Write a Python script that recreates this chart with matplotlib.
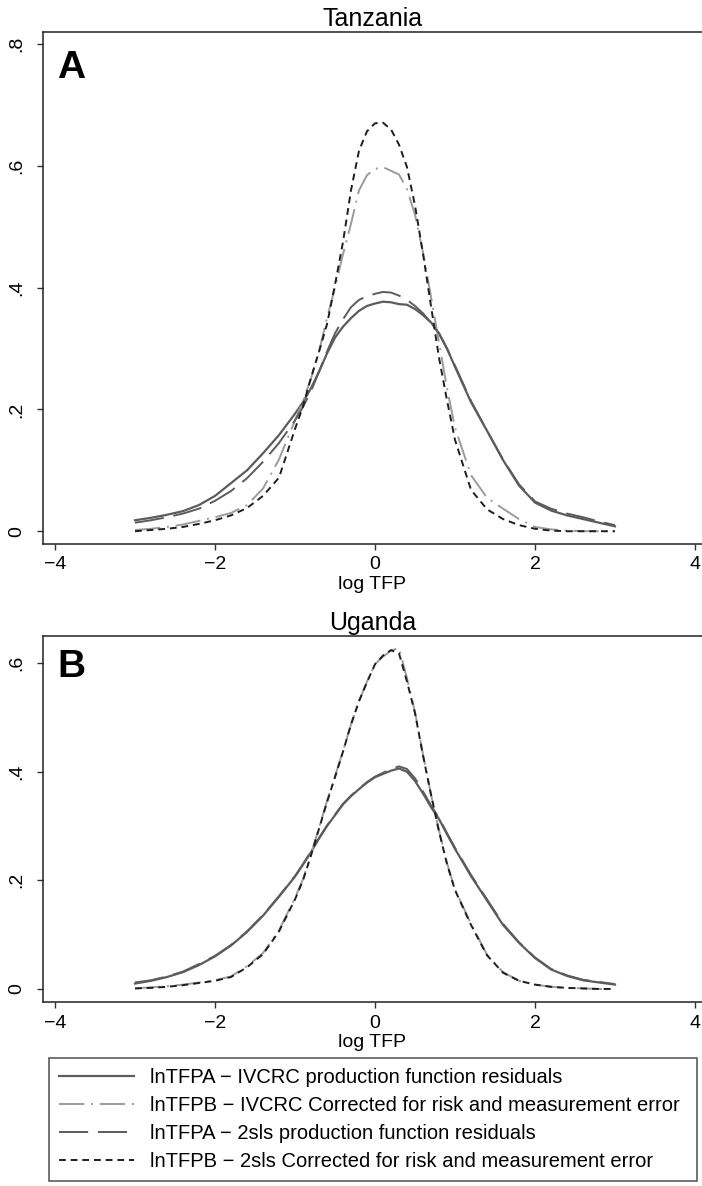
import matplotlib
matplotlib.use("Agg")
import matplotlib.pyplot as plt

plt.rcParams['font.family'] = ['Liberation Sans', 'DejaVu Sans']

# ---------------- data ----------------
x_grid = [-3.0, -2.8, -2.6, -2.4, -2.2, -2.0, -1.8, -1.6, -1.4, -1.2, -1.0,
          -0.9, -0.8, -0.7, -0.6, -0.5, -0.4, -0.3, -0.2, -0.1, 0.0,
          0.1, 0.2, 0.3, 0.4, 0.5, 0.6, 0.7, 0.8, 0.9, 1.0,
          1.2, 1.4, 1.6, 1.8, 2.0, 2.2, 2.4, 2.6, 2.8, 3.0]

# Tanzania
tz_a_ivcrc = [0.018, 0.022, 0.027, 0.033, 0.043, 0.058, 0.079, 0.100, 0.128, 0.158, 0.193,
              0.212, 0.235, 0.262, 0.292, 0.318, 0.336, 0.350, 0.362, 0.370, 0.374,
              0.377, 0.376, 0.373, 0.372, 0.365, 0.355, 0.343, 0.325, 0.300, 0.270,
              0.212, 0.165, 0.117, 0.075, 0.047, 0.034, 0.026, 0.020, 0.014, 0.008]
tz_b_ivcrc = [0.002, 0.004, 0.007, 0.011, 0.017, 0.023, 0.030, 0.043, 0.070, 0.118, 0.182,
              0.214, 0.251, 0.295, 0.350, 0.400, 0.455, 0.505, 0.560, 0.585, 0.595,
              0.598, 0.592, 0.586, 0.562, 0.520, 0.458, 0.385, 0.310, 0.235, 0.170,
              0.092, 0.055, 0.037, 0.020, 0.007, 0.003, 0.001, 0.000, 0.000, 0.000]
tz_a_2sls = [0.014, 0.018, 0.023, 0.029, 0.037, 0.050, 0.066, 0.087, 0.114, 0.145, 0.182,
             0.204, 0.230, 0.262, 0.295, 0.325, 0.348, 0.368, 0.380, 0.386, 0.390,
             0.393, 0.392, 0.387, 0.380, 0.370, 0.358, 0.342, 0.325, 0.300, 0.272,
             0.214, 0.165, 0.118, 0.077, 0.049, 0.037, 0.029, 0.023, 0.016, 0.010]
tz_b_2sls = [0.000, 0.002, 0.004, 0.007, 0.012, 0.018, 0.026, 0.038, 0.058, 0.088, 0.168,
             0.205, 0.252, 0.295, 0.340, 0.405, 0.475, 0.560, 0.625, 0.657, 0.670,
             0.671, 0.660, 0.635, 0.598, 0.535, 0.456, 0.370, 0.285, 0.215, 0.150,
             0.068, 0.036, 0.020, 0.010, 0.004, 0.001, 0.000, 0.000, 0.000, 0.000]

# Uganda
ug_a_ivcrc = [0.010, 0.015, 0.022, 0.031, 0.044, 0.060, 0.080, 0.105, 0.135, 0.170, 0.207,
              0.229, 0.252, 0.277, 0.300, 0.320, 0.340, 0.355, 0.368, 0.380, 0.390,
              0.396, 0.402, 0.406, 0.400, 0.383, 0.360, 0.335, 0.313, 0.285, 0.258,
              0.208, 0.163, 0.118, 0.085, 0.057, 0.036, 0.024, 0.016, 0.012, 0.008]
ug_b_ivcrc = [0.001, 0.003, 0.005, 0.008, 0.012, 0.016, 0.023, 0.042, 0.066, 0.108, 0.168,
              0.202, 0.248, 0.297, 0.346, 0.392, 0.438, 0.487, 0.530, 0.566, 0.598,
              0.612, 0.623, 0.628, 0.572, 0.510, 0.432, 0.358, 0.292, 0.232, 0.183,
              0.120, 0.063, 0.031, 0.015, 0.008, 0.004, 0.002, 0.001, 0.000, 0.000]
ug_a_2sls = [0.012, 0.016, 0.023, 0.032, 0.046, 0.061, 0.081, 0.106, 0.136, 0.171, 0.208,
             0.230, 0.253, 0.278, 0.301, 0.321, 0.341, 0.356, 0.369, 0.381, 0.391,
             0.398, 0.405, 0.410, 0.405, 0.388, 0.364, 0.338, 0.315, 0.287, 0.260,
             0.210, 0.165, 0.120, 0.086, 0.058, 0.037, 0.025, 0.017, 0.013, 0.009]
ug_b_2sls = [0.001, 0.002, 0.004, 0.007, 0.011, 0.015, 0.022, 0.040, 0.064, 0.106, 0.165,
             0.200, 0.246, 0.295, 0.344, 0.390, 0.437, 0.487, 0.530, 0.565, 0.598,
             0.614, 0.624, 0.618, 0.566, 0.508, 0.430, 0.358, 0.290, 0.230, 0.182,
             0.118, 0.062, 0.030, 0.015, 0.008, 0.004, 0.002, 0.001, 0.000, 0.000]

panel_titles = ["Tanzania", "Uganda"]
panel_letters = ["A", "B"]
xticks = [-4, -2, 0, 2, 4]
xtick_labels = ["\u22124", "\u22122", "0", "2", "4"]
yticks_a = [0, 0.2, 0.4, 0.6, 0.8]
yticks_b = [0, 0.2, 0.4, 0.6]
ytick_labels_a = ["0", ".2", ".4", ".6", ".8"]
ytick_labels_b = ["0", ".2", ".4", ".6"]
x_label = "log TFP"
legend_labels = ["lnTFPA \u2212 IVCRC production function residuals",
                 "lnTFPB \u2212 IVCRC Corrected for risk and measurement error",
                 "lnTFPA \u2212 2sls production function residuals",
                 "lnTFPB \u2212 2sls Corrected for risk and measurement error"]

# ---------------- styles ----------------
LW = 1.4
styles = [
    dict(color="#5c5c5c", linestyle="-", linewidth=LW + 0.2),
    dict(color="#9b9b9b", linestyle=(0, (13, 3.5, 1, 3.5)), linewidth=LW),
    dict(color="#5c5c5c", linestyle=(0, (15, 5)), linewidth=LW),
    dict(color="#1e1e1e", linestyle=(0, (3.5, 2.5)), linewidth=LW),
]

W, H = 702, 1186
fig = plt.figure(figsize=(W / 100, H / 100), dpi=100)

def px_rect(left, top, right, bottom):
    return [left / W, 1 - bottom / H, (right - left) / W, (bottom - top) / H]

axA = fig.add_axes(px_rect(43, 32, 702, 544))
axB = fig.add_axes(px_rect(43, 636, 702, 1002))

panels = [
    (axA, [tz_a_ivcrc, tz_b_ivcrc, tz_a_2sls, tz_b_2sls], (-0.021, 0.82), yticks_a, ytick_labels_a),
    (axB, [ug_a_ivcrc, ug_b_ivcrc, ug_a_2sls, ug_b_2sls], (-0.024, 0.65), yticks_b, ytick_labels_b),
]

handles = []
for i, (ax, series, ylim, yt, ytl) in enumerate(panels):
    hs = []
    for s, st in zip(series, styles):
        h, = ax.plot(x_grid, s, **st)
        hs.append(h)
    if i == 1:
        handles = hs
    ax.set_xlim(-4.15, 4.0875)
    ax.set_ylim(*ylim)
    ax.set_xticks(xticks)
    ax.set_xticklabels(xtick_labels, fontsize=14)
    ax.set_yticks(yt)
    ax.set_yticklabels(ytl, fontsize=14, rotation=90, va="center")
    ax.tick_params(axis="both", direction="out", length=4, width=1, color="#333333")
    ax.tick_params(axis="x", pad=5)
    ax.tick_params(axis="y", pad=9)
    for sp in ["left", "bottom", "top"]:
        ax.spines[sp].set_linewidth(1.1)
        ax.spines[sp].set_color("#222222")
    ax.spines["right"].set_visible(False)
    ax.set_xlabel(x_label, fontsize=14, labelpad=2)
    ax.set_title(panel_titles[i], fontsize=18, pad=4)
    ax.text(0.022, 0.965, panel_letters[i], transform=ax.transAxes, fontsize=28,
            fontweight="bold", ha="left", va="top")

leg_top = 1058
leg = fig.legend(handles, legend_labels, loc="upper left",
                 bbox_to_anchor=(49 / W, 1 - (leg_top + 10) / H, (697 - 49) / W, 10 / H),
                 mode="expand", borderaxespad=0, fontsize=14.5, frameon=True,
                 fancybox=False, handlelength=3.7, handletextpad=0.8,
                 labelspacing=0.45, borderpad=0.5)
leg.get_frame().set_edgecolor("#222222")
leg.get_frame().set_linewidth(1.1)

fig.savefig("out.png", dpi=100)
